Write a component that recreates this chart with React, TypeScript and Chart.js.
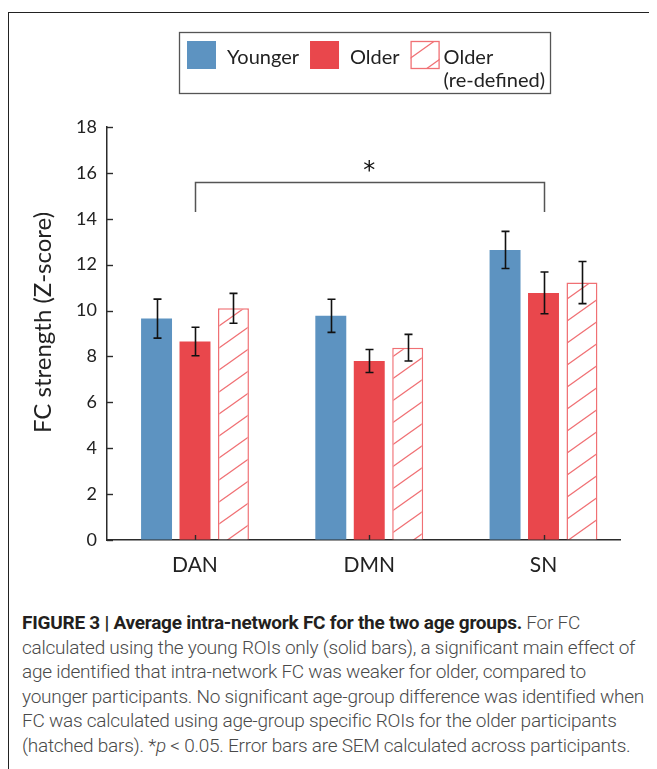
import { useEffect, useRef } from 'react';
import { Chart, registerables } from 'chart.js';

Chart.register(...registerables);

// ---------- data ----------
const categories = ['DAN', 'DMN', 'SN'];
const youngerMean = [9.65, 9.77, 12.64];
const youngerSem = [0.85, 0.72, 0.81];
const olderMean = [8.65, 7.8, 10.77];
const olderSem = [0.62, 0.5, 0.91];
const olderRedefMean = [10.1, 8.38, 11.22];
const olderRedefSem = [0.65, 0.58, 0.92];
const seriesLabels = ['Younger', 'Older', ['Older', '(re-defined)']];
const yMin = 0;
const yMax = 18;
const yStep = 2;
const xRangeMin = -0.505;
const xRangeMax = 2.439;
const bracketFrom = 0;
const bracketTo = 2;
const bracketTopValue = 15.6;
const bracketLegValue = 14.3;
const starValue = 16.3;
const yTitle = 'FC strength (Z-score)';

// ---------- styles ----------
const BLUE = '#5d93c1';
const RED = '#e9474c';
const HATCH = '#f07074';
const AXIS = '#2b2b2b';
const FONT = 'Lato, "Open Sans", sans-serif';

function makeHatch(ctx: CanvasRenderingContext2D): CanvasPattern | string {
  const w = 31;
  const h = 22;
  const c = document.createElement('canvas');
  c.width = w;
  c.height = h;
  const g = c.getContext('2d');
  if (!g) return '#fff';
  g.fillStyle = '#ffffff';
  g.fillRect(0, 0, w, h);
  g.strokeStyle = HATCH;
  g.lineWidth = 1.3;
  for (let n = -1; n <= 1; n++) {
    g.beginPath();
    g.moveTo(-w, h + h * n + h);
    g.lineTo(2 * w, h * n - h);
    g.stroke();
  }
  return ctx.createPattern(c, 'repeat') || '#fff';
}

const innerTicksPlugin = {
  id: 'innerTicks',
  afterDatasetsDraw(chart: any) {
    const { ctx, chartArea, scales } = chart;
    ctx.save();
    ctx.strokeStyle = AXIS;
    ctx.lineWidth = 1.4;
    scales.y.ticks.forEach((t: any) => {
      const py = Math.round(scales.y.getPixelForValue(t.value)) + 0.5;
      ctx.beginPath();
      ctx.moveTo(chartArea.left, py);
      ctx.lineTo(chartArea.left + 6, py);
      ctx.stroke();
    });
    scales.x.ticks.forEach((t: any) => {
      const px = Math.round(scales.x.getPixelForValue(t.value)) + 0.5;
      ctx.beginPath();
      ctx.moveTo(px, chartArea.bottom);
      ctx.lineTo(px, chartArea.bottom - 5);
      ctx.stroke();
    });
    ctx.restore();
  },
};

const yTitlePlugin = {
  id: 'yTitleText',
  afterDraw(chart: any) {
    const { ctx, chartArea } = chart;
    ctx.save();
    ctx.translate(34, (chartArea.top + chartArea.bottom) / 2 - 11);
    ctx.rotate(-Math.PI / 2);
    ctx.font = `24px ${FONT}`;
    ctx.fillStyle = '#222';
    ctx.textAlign = 'center';
    ctx.textBaseline = 'middle';
    ctx.fillText(yTitle, 0, 0);
    ctx.restore();
  },
};

const errorBarPlugin = {
  id: 'errorBars',
  afterDatasetsDraw(chart: any) {
    const { ctx, scales } = chart;
    ctx.save();
    ctx.strokeStyle = '#111';
    ctx.lineWidth = 1.6;
    chart.data.datasets.forEach((ds: any, i: number) => {
      const meta = chart.getDatasetMeta(i);
      meta.data.forEach((bar: any, j: number) => {
        const v = ds.data[j].y;
        const e = ds.sem[j];
        const top = scales.y.getPixelForValue(v + e);
        const bot = scales.y.getPixelForValue(v - e);
        const x = Math.round(bar.x) + 0.5;
        ctx.beginPath();
        ctx.moveTo(x, top);
        ctx.lineTo(x, bot);
        ctx.moveTo(x - 4, top);
        ctx.lineTo(x + 4, top);
        ctx.moveTo(x - 4, bot);
        ctx.lineTo(x + 4, bot);
        ctx.stroke();
      });
    });
    ctx.restore();
  },
};

const bracketPlugin = {
  id: 'sigBracket',
  afterDatasetsDraw(chart: any) {
    const { ctx, scales } = chart;
    const x0 = Math.round(scales.x.getPixelForValue(bracketFrom)) + 0.5;
    const x1 = Math.round(scales.x.getPixelForValue(bracketTo)) + 0.5;
    const yT = Math.round(scales.y.getPixelForValue(bracketTopValue)) + 0.5;
    const yL = scales.y.getPixelForValue(bracketLegValue);
    ctx.save();
    ctx.strokeStyle = '#555';
    ctx.lineWidth = 1.5;
    ctx.beginPath();
    ctx.moveTo(x0, yL);
    ctx.lineTo(x0, yT);
    ctx.lineTo(x1, yT);
    ctx.lineTo(x1, yL);
    ctx.stroke();
    const sx = scales.x.getPixelForValue((bracketFrom + bracketTo) / 2);
    const sy = scales.y.getPixelForValue(starValue);
    ctx.fillStyle = '#111';
    ctx.font = `24px "DejaVu Sans", sans-serif`;
    ctx.textAlign = 'center';
    ctx.textBaseline = 'alphabetic';
    const m = ctx.measureText('*');
    const asc = m.actualBoundingBoxAscent || 0;
    const desc = m.actualBoundingBoxDescent || 0;
    ctx.fillText('*', sx, sy + (asc - desc) / 2);
    ctx.restore();
  },
};

const boxLegendPlugin = {
  id: 'boxLegend',
  afterDraw(chart: any) {
    const { ctx } = chart;
    const left = 170;
    const top = 19;
    const sq = 29;
    const sqTop = 28;
    const gapText = 11;
    const gapItem = 11;
    const lineGap = 23;
    const baseline = 50.5;
    ctx.save();
    ctx.font = `20px ${FONT}`;
    ctx.textBaseline = 'alphabetic';
    ctx.textAlign = 'left';
    let x = left + 8;
    chart.data.datasets.forEach((ds: any) => {
      ctx.fillStyle = ds.backgroundColor;
      ctx.fillRect(x, sqTop, sq, sq - 1);
      if (ds.hatched) {
        ctx.strokeStyle = HATCH;
        ctx.lineWidth = 1.3;
        ctx.strokeRect(x + 0.5, sqTop + 0.5, sq - 1, sq - 2);
      }
      x += sq + (ds.hatched ? 4 : gapText);
      const lines: string[] = Array.isArray(ds.label) ? ds.label : [ds.label];
      let w = 0;
      ctx.fillStyle = '#222';
      lines.forEach((ln, k) => {
        ctx.fillText(ln, x, baseline + k * lineGap);
        w = Math.max(w, ctx.measureText(ln).width);
      });
      x += w + gapItem;
    });
    const right = x - gapItem + 5;
    ctx.strokeStyle = '#555';
    ctx.lineWidth = 1.3;
    ctx.strokeRect(left + 0.5, top + 0.5, right - left, 61);
    ctx.restore();
  },
};

export default function App() {
  const ref = useRef<HTMLCanvasElement | null>(null);

  useEffect(() => {
    document.documentElement.style.overflow = 'hidden';
    const canvas = ref.current;
    if (!canvas) return;
    const ctx = canvas.getContext('2d');
    if (!ctx) return;
    const hatch = makeHatch(ctx);
    const toPts = (arr: number[]) => arr.map((y, i) => ({ x: i, y }));

    const chart = new Chart(canvas, {
      type: 'bar',
      data: {
        datasets: [
          {
            label: seriesLabels[0] as any,
            data: toPts(youngerMean) as any,
            sem: youngerSem,
            backgroundColor: BLUE,
            borderWidth: 0,
          } as any,
          {
            label: seriesLabels[1] as any,
            data: toPts(olderMean) as any,
            sem: olderSem,
            backgroundColor: RED,
            borderWidth: 0,
          } as any,
          {
            label: seriesLabels[2] as any,
            data: toPts(olderRedefMean) as any,
            sem: olderRedefSem,
            hatched: true,
            backgroundColor: hatch,
            borderColor: HATCH,
            borderWidth: 1.5,
          } as any,
        ],
      },
      options: {
        responsive: false,
        animation: false,
        devicePixelRatio: 1,
        categoryPercentage: 0.662,
        barPercentage: 0.805,
        layout: { padding: { top: 114, right: 37, left: 0, bottom: 0 } },
        plugins: {
          legend: { display: false },
          tooltip: { enabled: false },
          title: { display: false },
        },
        scales: {
          x: {
            type: 'linear',
            min: xRangeMin,
            max: xRangeMax,
            offset: false,
            afterFit: (s: any) => {
              s.height = 71;
            },
            afterBuildTicks: (s: any) => {
              s.ticks = categories.map((_, i) => ({ value: i }));
            },
            grid: { display: true, offset: false, drawOnChartArea: false, drawTicks: false, color: 'rgba(0,0,0,0)' },
            border: { display: true, color: AXIS, width: 1.5 },
            ticks: {
              autoSkip: false,
              maxRotation: 0,
              padding: 13,
              color: '#222',
              font: { family: FONT, size: 21 },
              callback: (v: any) => categories[Math.round(Number(v))] ?? '',
            },
          },
          y: {
            min: yMin,
            max: yMax,
            afterFit: (s: any) => {
              s.width = 98;
            },
            grid: { display: true, drawOnChartArea: false, drawTicks: false, color: 'rgba(0,0,0,0)' },
            border: { display: true, color: AXIS, width: 1.5 },
            ticks: {
              stepSize: yStep,
              padding: 10,
              color: '#222',
              font: { family: FONT, size: 18 },
            },
            title: { display: false },
          },
        },
      } as any,
      plugins: [innerTicksPlugin, errorBarPlugin, bracketPlugin, boxLegendPlugin, yTitlePlugin],
    });
    return () => chart.destroy();
  }, []);

  const lineStyle: any = { whiteSpace: 'nowrap' };
  return (
    <div style={{ paddingTop: 4 }}>
      <div
        style={{
          marginRight: -8,
          borderTop: '1px solid #222',
          borderLeft: '1px solid #222',
          height: 800,
          background: '#fff',
        }}
      >
        <canvas ref={ref} width={648} height={598} style={{ display: 'block' }} />
        <div
          style={{
            paddingLeft: 13,
            fontFamily: 'Roboto, sans-serif',
            fontWeight: 300,
            fontSize: 19,
            letterSpacing: '-0.25px',
            lineHeight: '24.6px',
            color: '#4a4a4a',
          }}
        >
          <div style={lineStyle}>
            <b style={{ color: '#231f20', fontWeight: 700 }}>
              FIGURE 3 | Average intra-network FC for the two age groups.
            </b>{' '}
            For FC
          </div>
          <div style={lineStyle}>calculated using the young ROIs only (solid bars), a significant main effect of</div>
          <div style={lineStyle}>age identified that intra-network FC was weaker for older, compared to</div>
          <div style={lineStyle}>younger participants. No significant age-group difference was identified when</div>
          <div style={lineStyle}>FC was calculated using age-group specific ROIs for the older participants</div>
          <div style={lineStyle}>
            (hatched bars). *<i>p</i> &lt; 0.05. Error bars are SEM calculated across participants.
          </div>
        </div>
      </div>
    </div>
  );
}
